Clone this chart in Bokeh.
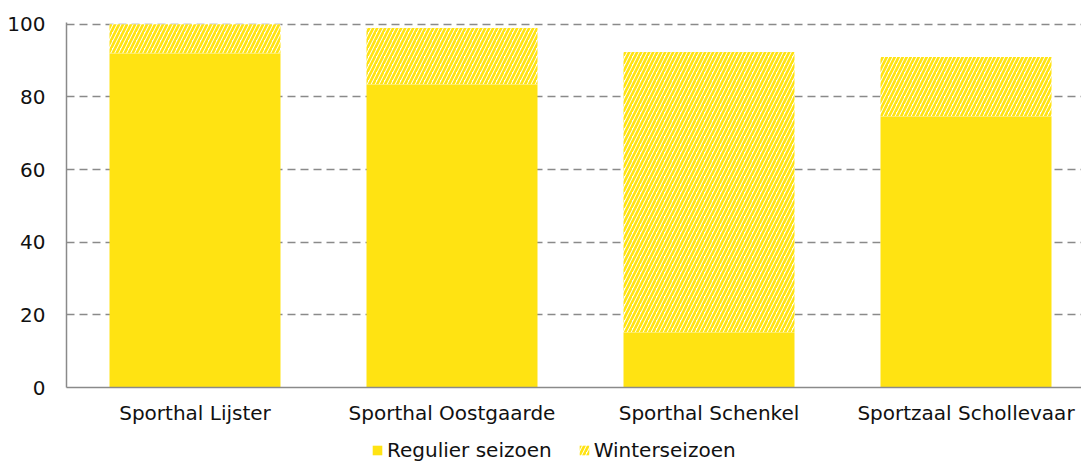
from bokeh.plotting import figure
from bokeh.layouts import column
from bokeh.models import Range1d, FixedTicker, Legend, LegendItem, ColumnDataSource
from bokeh.embed import file_html
from bokeh.resources import INLINE

categories = ["Sporthal Lijster", "Sporthal Oostgaarde", "Sporthal Schenkel", "Sportzaal Schollevaar"]
regulier = [92, 83.5, 15.2, 74.7]
winter = [8, 15.5, 77.2, 16.3]
y_ticks = [0, 20, 40, 60, 80, 100]
series_names = ["Regulier seizoen", "Winterseizoen"]

YELLOW = "#FFE312"
FONT = "DejaVu Sans"
HATCH = dict(hatch_pattern="/", hatch_color=YELLOW, hatch_scale=8, hatch_weight=2.7)

xs = [i + 0.5 for i in range(len(categories))]
src = ColumnDataSource(dict(
    x=xs,
    reg=regulier,
    tot=[r + w for r, w in zip(regulier, winter)],
))

p = figure(width=1081, height=435, output_backend="svg", toolbar_location=None,
           x_range=Range1d(0, 1015 / 257), y_range=Range1d(0, 100.5),
           min_border_left=66, min_border_right=0, min_border_top=22, min_border_bottom=48)
p.outline_line_color = None

bw = 171 / 257
p.vbar(x="x", bottom=0, top="reg", width=bw, source=src, fill_color=YELLOW, line_color=None)
p.vbar(x="x", bottom="reg", top="tot", width=bw, source=src, fill_color="white", line_color=None, **HATCH)

p.xgrid.grid_line_color = None
p.ygrid.grid_line_color = "#8a8a8a"
p.ygrid.grid_line_dash = "8 5"
p.ygrid.grid_line_width = 1.5
p.ygrid.ticker = FixedTicker(ticks=y_ticks)

p.yaxis.ticker = FixedTicker(ticks=y_ticks)
p.yaxis.axis_line_color = "#8a8a8a"
p.yaxis.axis_line_width = 1.5
p.yaxis.major_tick_line_color = None
p.yaxis.minor_tick_line_color = None
p.yaxis.major_label_standoff = 15
p.yaxis.major_label_text_font = FONT
p.yaxis.major_label_text_font_size = "20px"
p.yaxis.major_label_text_color = "#111111"

p.xaxis.ticker = FixedTicker(ticks=xs)
p.xaxis.major_label_overrides = {x: c for x, c in zip(xs, categories)}
p.xaxis.axis_line_color = "#8a8a8a"
p.xaxis.axis_line_width = 1.5
p.xaxis.major_tick_line_color = None
p.xaxis.minor_tick_line_color = None
p.xaxis.major_label_standoff = 7
p.xaxis.major_label_text_font = FONT
p.xaxis.major_label_text_font_size = "20px"
p.xaxis.major_label_text_color = "#111111"

# legend strip below the chart (its bars lie outside the strip's visible range)
p2 = figure(width=1081, height=27, output_backend="svg", toolbar_location=None,
            x_axis_type=None, y_axis_type=None, min_border=0,
            x_range=Range1d(100, 101), y_range=Range1d(1000, 1001))
p2.outline_line_color = None
p2.grid.visible = False
l1 = p2.vbar(x="x", bottom=0, top="reg", width=bw, source=src, fill_color=YELLOW, line_color=None)
l2 = p2.vbar(x="x", bottom="reg", top="tot", width=bw, source=src, fill_color="white", line_color=None, **HATCH)
legend = Legend(items=[LegendItem(label=series_names[0], renderers=[l1]),
                       LegendItem(label=series_names[1], renderers=[l2])],
                orientation="horizontal", location=(305, 0),
                label_text_font=FONT, label_text_font_size="20px", label_text_color="#111111",
                glyph_width=12, glyph_height=12, spacing=26, label_standoff=4,
                border_line_color=None, background_fill_alpha=0, padding=0, margin=0)
p2.add_layout(legend, "center")

layout = column(p, p2, spacing=0)
open("out.html", "w").write(file_html(layout, INLINE))
